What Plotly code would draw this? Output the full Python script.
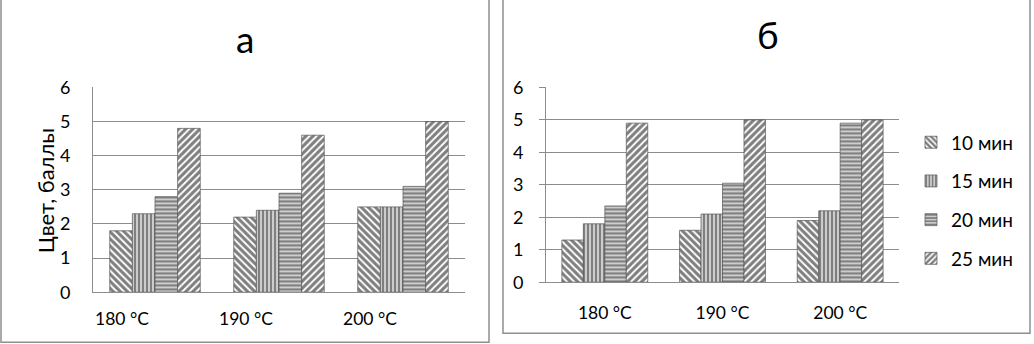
import plotly.graph_objects as go

categories = ["180 °C", "190 °C", "200 °C"]
series_names = ["10 мин", "15 мин", "20 мин", "25 мин"]

# panel "а"
a_10 = [1.8, 2.2, 2.5]
a_15 = [2.3, 2.4, 2.5]
a_20 = [2.8, 2.9, 3.1]
a_25 = [4.8, 4.6, 5.0]

# panel "б"
b_10 = [1.3, 1.6, 1.9]
b_15 = [1.8, 2.1, 2.2]
b_20 = [2.35, 3.05, 4.9]
b_25 = [4.9, 5.0, 5.0]

y_ticks = [0, 1, 2, 3, 4, 5, 6]
title_a = "а"
title_b = "б"
y_title = "Цвет, баллы"

FONT = "Lato"
W, H = 1034, 344
shapes_pat = ["\\", "|", "-", "/"]
pat_sizes = [5, 4, 4, 5]
pat_sol = [0.62, 0.7, 0.7, 0.62]

fig = go.Figure()

a_vals = [a_10, a_15, a_20, a_25]
b_vals = [b_10, b_15, b_20, b_25]

def bar_marker(i):
    return dict(color="white", line=dict(color="#555", width=0.7),
                pattern=dict(shape=shapes_pat[i], fgcolor="#000000", bgcolor="white",
                             size=pat_sizes[i], solidity=pat_sol[i], fillmode="overlay"))

for i, name in enumerate(series_names):
    fig.add_trace(go.Bar(x=categories, y=a_vals[i], name=name, xaxis="x", yaxis="y",
                         showlegend=False, legendgroup=name, marker=bar_marker(i)))
for i, name in enumerate(series_names):
    fig.add_trace(go.Bar(x=categories, y=b_vals[i], name=name, xaxis="x2", yaxis="y2",
                         showlegend=True, legendgroup=name, marker=bar_marker(i)))

SY, OY = 0.937, 11.5   # observed vertical mapping of the capture

def px_x(p):
    return p / W

def px_y(p):
    page = (p - OY) / SY
    return 1 - page / H

grid = "#8c8c8c"
tickfont = dict(family=FONT, size=18, color="#000")
catfont = dict(family=FONT, size=17.5, color="#000")

fig.update_layout(
    width=W, height=H,
    margin=dict(l=0, r=0, t=0, b=0),
    paper_bgcolor="white", plot_bgcolor="white",
    barmode="group", bargap=0.27, bargroupgap=0,
    font=dict(family=FONT, color="#000"),
    xaxis=dict(domain=[px_x(93), px_x(465)], showticklabels=False, ticks="",
               showline=True, linecolor=grid, linewidth=1, showgrid=False,
               anchor="y", fixedrange=True),
    yaxis=dict(domain=[px_y(292), px_y(87)], range=[0, 6], tickvals=y_ticks,
               showgrid=True, gridcolor=grid, gridwidth=1, zeroline=False,
               showline=True, linecolor=grid, linewidth=1,
               ticks="", ticklabelstandoff=18, tickfont=tickfont, anchor="x"),
    xaxis2=dict(domain=[px_x(546), px_x(899)], ticks="", tickfont=catfont,
                showline=True, linecolor=grid, linewidth=1, showgrid=False,
                ticklabelstandoff=15, anchor="y2"),
    yaxis2=dict(domain=[px_y(282), px_y(87)], range=[0, 6], tickvals=y_ticks,
                showgrid=True, gridcolor=grid, gridwidth=1, zeroline=False,
                showline=True, linecolor=grid, linewidth=1,
                ticks="outside", ticklen=6, tickcolor=grid,
                ticklabelstandoff=12, tickfont=tickfont, anchor="x2"),
    legend=dict(x=px_x(911), y=px_y(123), xanchor="left", yanchor="top",
                font=dict(family=FONT, size=19, color="#000"),
                tracegroupgap=11, itemwidth=30, bgcolor="rgba(0,0,0,0)"),
)

annotations = [
    dict(text=title_a, x=px_x(245), y=px_y(38), xref="paper", yref="paper",
         xanchor="center", yanchor="middle",
         showarrow=False, font=dict(family=FONT, size=37, color="#000")),
    dict(text=title_b, x=px_x(768), y=px_y(34), xref="paper", yref="paper",
         xanchor="center", yanchor="middle",
         showarrow=False, font=dict(family=FONT, size=37, color="#000")),
    dict(text=y_title, x=px_x(45), y=px_y(190), xref="paper", yref="paper",
         xanchor="center", yanchor="middle",
         textangle=-90, showarrow=False, font=dict(family=FONT, size=22, color="#000")),
]
# panel "а" category labels: left-aligned at category boundaries
for i, c in enumerate(categories):
    annotations.append(dict(text=c, x=i - 0.5, y=px_y(318), xref="x", yref="paper",
                            xanchor="left", yanchor="middle", showarrow=False,
                            font=catfont))
fig.update_layout(annotations=annotations)

border = "#8f8f8f"
fig.update_layout(shapes=[
    dict(type="rect", xref="paper", yref="paper", x0=px_x(1), x1=px_x(489),
         y0=px_y(342), y1=px_y(-8), line=dict(color=border, width=1.5)),
    dict(type="rect", xref="paper", yref="paper", x0=px_x(503), x1=px_x(1030),
         y0=px_y(333), y1=px_y(-8), line=dict(color=border, width=1.5)),
])

post = """
var s = document.createElement('style');
s.textContent = 'html,body{margin:0;padding:0;overflow:hidden;}';
document.head.appendChild(s);
"""
fig.write_html("out.html", config={"displayModeBar": False}, post_script=post)
